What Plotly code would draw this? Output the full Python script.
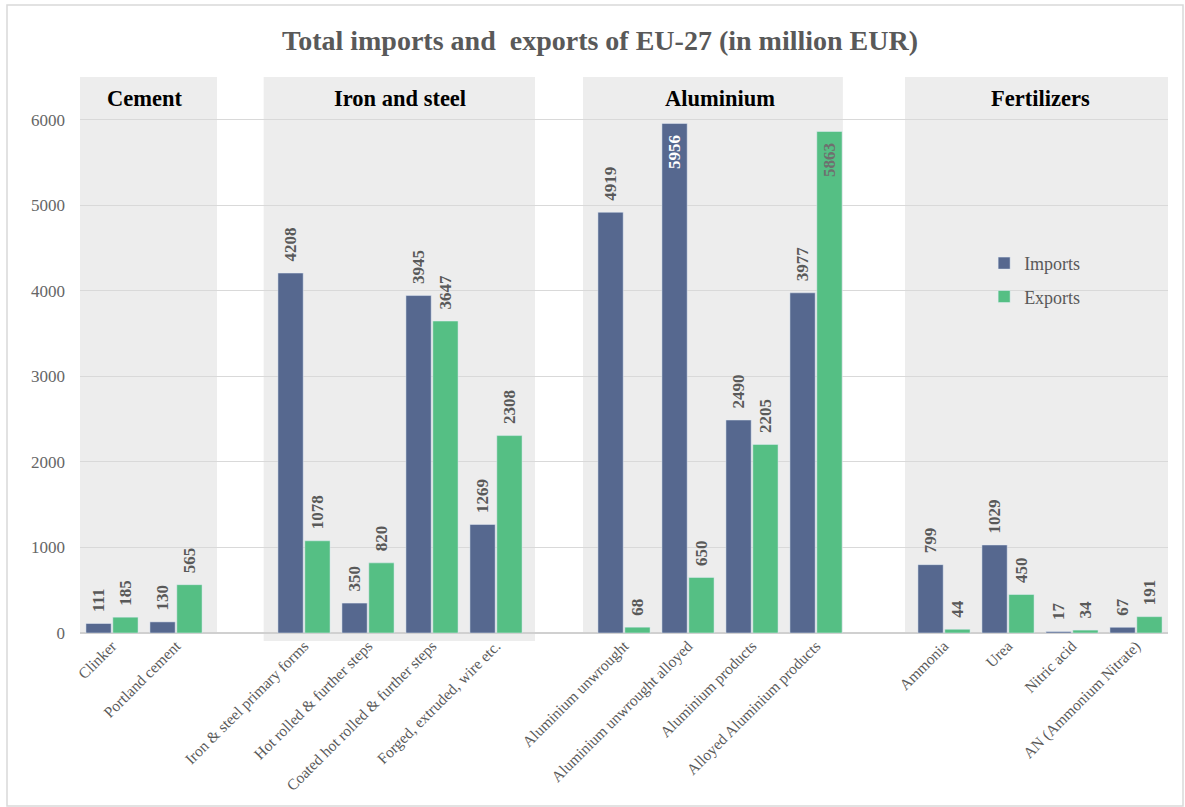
import plotly.graph_objects as go

# ---- data ----
categories = ["Clinker", "Portland cement", " ",
              "Iron & steel primary forms", "Hot rolled & further steps",
              "Coated hot rolled & further steps", "Forged, extruded, wire etc.", "  ",
              "Aluminium unwrought", "Aluminium unwrought alloyed", "Aluminium products",
              "Alloyed Aluminium products", "   ",
              "Ammonia", "Urea", "Nitric acid", "AN (Ammonium Nitrate)"]
imports = [111, 130, None, 4208, 350, 3945, 1269, None, 4919, 5956, 2490, 3977, None, 799, 1029, 17, 67]
exports = [185, 565, None, 1078, 820, 3647, 2308, None, 68, 650, 2205, 5863, None, 44, 450, 34, 191]
groups = [("Cement", 0, 1), ("Iron and steel", 3, 6), ("Aluminium", 8, 11), ("Fertilizers", 13, 16)]
title_text = "Total imports and\u00a0 exports of EU-27 (in million EUR)"

FONT = "Liberation Serif"
GRAY = "#595959"
C_IMP = "#56688F"
C_EXP = "#55BF84"
NB = "\u00a0"


def is_inside(v):
    return v is not None and v > 5500


def labels(vals):
    out = []
    for v in vals:
        if v is None:
            out.append("")
        elif is_inside(v):
            out.append(str(v) + NB * 2)
        else:
            out.append(NB * 2 + str(v))
    return out


def positions(vals):
    return ["inside" if is_inside(v) else "outside" for v in vals]


imp_text_colors = ["white" if is_inside(v) else GRAY for v in imports]
exp_text_colors = ["#6F6F6F" if is_inside(v) else GRAY for v in exports]

fig = go.Figure()
fig.add_trace(go.Bar(
    x=categories, y=imports, name="Imports", marker_color=C_IMP,
    text=labels(imports), textposition=positions(imports), textangle=-90,
    insidetextanchor="end", constraintext="none", cliponaxis=False,
    textfont=dict(family=FONT, size=17, color=imp_text_colors, weight="bold"),
    legendgroup="a", hoverinfo="x+y"))
fig.add_trace(go.Bar(
    x=categories, y=exports, name="Exports", marker_color=C_EXP,
    text=labels(exports), textposition=positions(exports), textangle=-90,
    insidetextanchor="end", constraintext="none", cliponaxis=False,
    textfont=dict(family=FONT, size=17, color=exp_text_colors, weight="bold"),
    legendgroup="b", hoverinfo="x+y"))

shapes = []
annotations = []
# (left pad, right pad) of the grey panel around each group, in category units
pads = {"Cement": (0.63, 0.64), "Iron and steel": (0.63, 0.61),
        "Aluminium": (0.64, 0.42), "Fertilizers": (0.61, 0.5)}
for name, a, b in groups:
    pl, pr = pads[name]
    x0 = a - pl
    x1 = b + pr
    y0 = -0.0144 if name == "Iron and steel" else 0
    shapes.append(dict(type="rect", xref="x", yref="paper", x0=x0, x1=x1, y0=y0, y1=1,
                       fillcolor="#EDEDED", line=dict(width=0), layer="below"))
    annotations.append(dict(x=(a + b) / 2, xref="x", y=0.962, yref="paper", text=name,
                            showarrow=False, yanchor="middle",
                            font=dict(family=FONT, size=22.5, color="black", weight="bold")))

# outer border
shapes.append(dict(type="rect", xref="paper", yref="paper",
                   x0=(7 - 80) / 1088, x1=(1183 - 80) / 1088,
                   y0=(633 - 806) / 556, y1=(633 - 5) / 556,
                   line=dict(color="#D9D9D9", width=1.5), fillcolor="rgba(0,0,0,0)", layer="below"))

fig.update_layout(
    width=1185, height=807,
    margin=dict(l=80, r=17, t=77, b=174),
    paper_bgcolor="white", plot_bgcolor="rgba(0,0,0,0)",
    barmode="group", bargap=0.16, bargroupgap=0.06,
    font=dict(family=FONT, color=GRAY),
    title=dict(text=title_text, x=0.478, xref="paper", xanchor="center",
               y=1 - 40 / 807, yref="container", yanchor="middle",
               font=dict(family=FONT, size=28, color=GRAY, weight="bold")),
    xaxis=dict(type="category", tickangle=-45,
               tickfont=dict(family=FONT, size=15.5, color=GRAY, weight="normal"),
               showgrid=False, showline=False, ticks="", range=[-0.5, len(categories) - 0.5]),
    yaxis=dict(range=[0, 6500], dtick=1000, tick0=0, showgrid=True, gridcolor="#D9D9D9",
               gridwidth=1, zeroline=True, zerolinecolor="#D0D0D0", zerolinewidth=1.5,
               tickfont=dict(family=FONT, size=17, color="#666666", weight="normal"),
               ticklabelstandoff=14),
    legend=dict(x=0.831, y=0.698, xanchor="left", yanchor="top", bgcolor="rgba(0,0,0,0)",
                font=dict(family=FONT, size=18, color=GRAY), traceorder="grouped",
                tracegroupgap=7, itemwidth=30),
    shapes=shapes, annotations=annotations,
)

fig.write_html("out.html", config={"displayModeBar": False},
               post_script="document.body.style.margin='0';")
